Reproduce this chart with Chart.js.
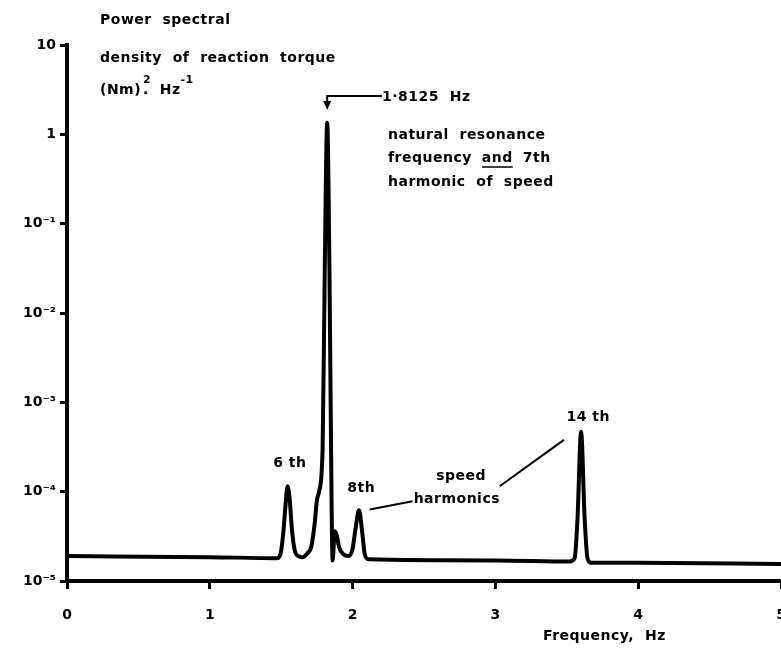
<!DOCTYPE html>
<html>
<head>
<meta charset="utf-8">
<script src="https://cdn.jsdelivr.net/npm/chart.js@4.4.1/dist/chart.umd.min.js"></script>
<style>
  html, body { margin: 0; padding: 0; background: #fff; }
  #wrap { width: 781px; height: 651px; position: relative; }
</style>
</head>
<body>
<div id="wrap"><canvas id="grafica"></canvas></div>
<script>
// frecuencia (Hz) y densidad espectral (Nm)^2/Hz
const frecuencias = [0, 1.0, 1.47, 1.495, 1.515, 1.53, 1.545, 1.56, 1.575, 1.595, 1.62, 1.65, 1.69, 1.71, 1.735, 1.75, 1.765, 1.79, 1.805, 1.822, 1.838, 1.852, 1.86, 1.875, 1.89, 1.905, 1.935, 1.97, 2.00, 2.02, 2.045, 2.065, 2.085, 2.11, 3.0, 3.52, 3.555, 3.575, 3.60, 3.625, 3.645, 3.67, 4.0, 5.0];
const densidad = [1.9e-5, 1.85e-5, 1.8e-5, 2.0e-5, 3.5e-5, 7e-5, 1.15e-4, 8e-5, 3.8e-5, 2.2e-5, 1.9e-5, 1.85e-5, 2.1e-5, 2.4e-5, 4.5e-5, 8e-5, 1.0e-4, 3e-4, 0.03, 1.35, 0.03, 1e-4, 1.7e-5, 3.6e-5, 3.2e-5, 2.4e-5, 2.0e-5, 1.9e-5, 2.3e-5, 3.8e-5, 6.2e-5, 3.8e-5, 2.0e-5, 1.75e-5, 1.7e-5, 1.65e-5, 1.8e-5, 5e-5, 4.7e-4, 5e-5, 1.8e-5, 1.6e-5, 1.6e-5, 1.55e-5];
const ticksY = [1e-5, 1e-4, 1e-3, 1e-2, 1e-1, 1, 10];
const etiquetasY = ['10⁻⁵', '10⁻⁴', '10⁻³', '10⁻²', '10⁻¹', '1', '10'];
const ticksX = [0, 1, 2, 3, 4, 5];

const fuente = 'bold 14px "DejaVu Sans", sans-serif';
const fuenteSup = 'bold 11px "DejaVu Sans", sans-serif';

// escribe un texto y devuelve la x donde termina
function escribir(ctx, texto, x, y) {
    ctx.fillText(texto, x, y);
    return x + ctx.measureText(texto).width;
}

// textos y lineas de anotacion
const pluginAnotaciones = {
    id: 'anotaciones',
    afterDatasetsDraw(chart) {
        const ctx = chart.ctx;
        const xs = chart.scales.x, ys = chart.scales.y;
        const px = v => xs.getPixelForValue(v);
        const py = v => ys.getPixelForValue(v);
        ctx.save();
        ctx.fillStyle = '#000';
        ctx.strokeStyle = '#000';
        ctx.font = fuente;
        ctx.letterSpacing = '0.5px';
        ctx.textBaseline = 'middle';
        ctx.textAlign = 'left';

        // titulo del eje y
        escribir(ctx, 'Power  spectral', 100, 20);
        escribir(ctx, 'density  of  reaction  torque', 100, 58);
        let x = escribir(ctx, '(Nm)', 100, 90);
        ctx.font = fuenteSup;
        escribir(ctx, '2', x + 2, 80);
        ctx.font = fuente;
        x = escribir(ctx, '.  Hz', x + 2, 90);
        ctx.font = fuenteSup;
        escribir(ctx, '-1', x, 80);
        ctx.font = fuente;

        // flecha del pico principal
        const xp = px(1.822);
        ctx.lineWidth = 2;
        ctx.beginPath();
        ctx.moveTo(382, 96);
        ctx.lineTo(xp, 96);
        ctx.lineTo(xp, 104);
        ctx.stroke();
        ctx.beginPath();
        ctx.moveTo(xp - 4, 101);
        ctx.lineTo(xp + 4, 101);
        ctx.lineTo(xp, 110);
        ctx.closePath();
        ctx.fill();
        escribir(ctx, '1·8125  Hz', 382, 97);

        escribir(ctx, 'natural  resonance', 388, 135);
        x = escribir(ctx, 'frequency', 388, 158);
        const xAnd = x + 10;
        x = escribir(ctx, 'and', xAnd, 158);
        ctx.lineWidth = 1.5;
        ctx.beginPath();
        ctx.moveTo(xAnd, 167);
        ctx.lineTo(x, 167);
        ctx.stroke();
        escribir(ctx, '7th', x + 10, 158);
        escribir(ctx, 'harmonic  of  speed', 388, 182);

        // armonicos de velocidad
        ctx.textAlign = 'center';
        ctx.fillText('6 th', px(1.56), py(2.1e-4));
        ctx.fillText('8th', px(2.06), py(1.08e-4));
        ctx.fillText('speed', px(2.76), py(1.5e-4));
        ctx.fillText('harmonics', px(2.73), py(8.3e-5));
        ctx.fillText('14 th', px(3.65), py(6.8e-4));

        ctx.lineWidth = 2;
        ctx.beginPath();
        ctx.moveTo(px(2.12), py(6.3e-5));
        ctx.lineTo(px(2.42), py(7.8e-5));
        ctx.moveTo(px(3.03), py(1.15e-4));
        ctx.lineTo(px(3.48), py(3.8e-4));
        ctx.stroke();

        // titulo del eje x
        ctx.textAlign = 'left';
        escribir(ctx, 'Frequency,  Hz', 543, 636);
        ctx.restore();
    }
};

const ctx = document.getElementById('grafica').getContext('2d');
const grafica = new Chart(ctx, {
    type: 'line',
    data: {
        datasets: [{
            data: frecuencias.map((f, i) => ({ x: f, y: densidad[i] })),
            borderColor: '#000',
            borderWidth: 4,
            borderJoinStyle: 'round',
            borderCapStyle: 'round',
            pointRadius: 0,
            fill: false,
            cubicInterpolationMode: 'monotone'
        }]
    },
    options: {
        responsive: true,
        maintainAspectRatio: false,
        animation: false,
        layout: { padding: { top: 45, right: 0, left: 0, bottom: 0 } },
        plugins: { legend: { display: false }, tooltip: { enabled: false } },
        scales: {
            x: {
                type: 'linear',
                min: 0,
                max: 5,
                afterBuildTicks: s => { s.ticks = ticksX.map(v => ({ value: v })); },
                afterFit: s => { s.height = 70; s.paddingLeft = 0; s.paddingRight = 0; },
                border: { display: true, color: '#000', width: 4 },
                grid: { display: true, drawOnChartArea: false, drawTicks: true, tickLength: 8, color: '#000', lineWidth: 3 },
                ticks: {
                    color: '#000',
                    font: { family: 'DejaVu Sans', size: 14, weight: 'bold' },
                    padding: 18,
                    maxRotation: 0
                }
            },
            y: {
                type: 'logarithmic',
                min: 1e-5,
                max: 10,
                afterBuildTicks: s => { s.ticks = ticksY.map(v => ({ value: v })); },
                afterFit: s => { s.width = 67; s.paddingTop = 0; s.paddingBottom = 0; },
                border: { display: true, color: '#000', width: 4 },
                grid: { display: true, drawOnChartArea: false, drawTicks: true, tickLength: 7, color: '#000', lineWidth: 3 },
                ticks: {
                    color: '#000',
                    font: { family: 'DejaVu Sans', size: 14, weight: 'bold' },
                    padding: 4,
                    callback: function(valor) {
                        const i = ticksY.indexOf(valor);
                        return i >= 0 ? etiquetasY[i] : '';
                    }
                }
            }
        }
    },
    plugins: [pluginAnotaciones]
});
</script>
</body>
</html>
